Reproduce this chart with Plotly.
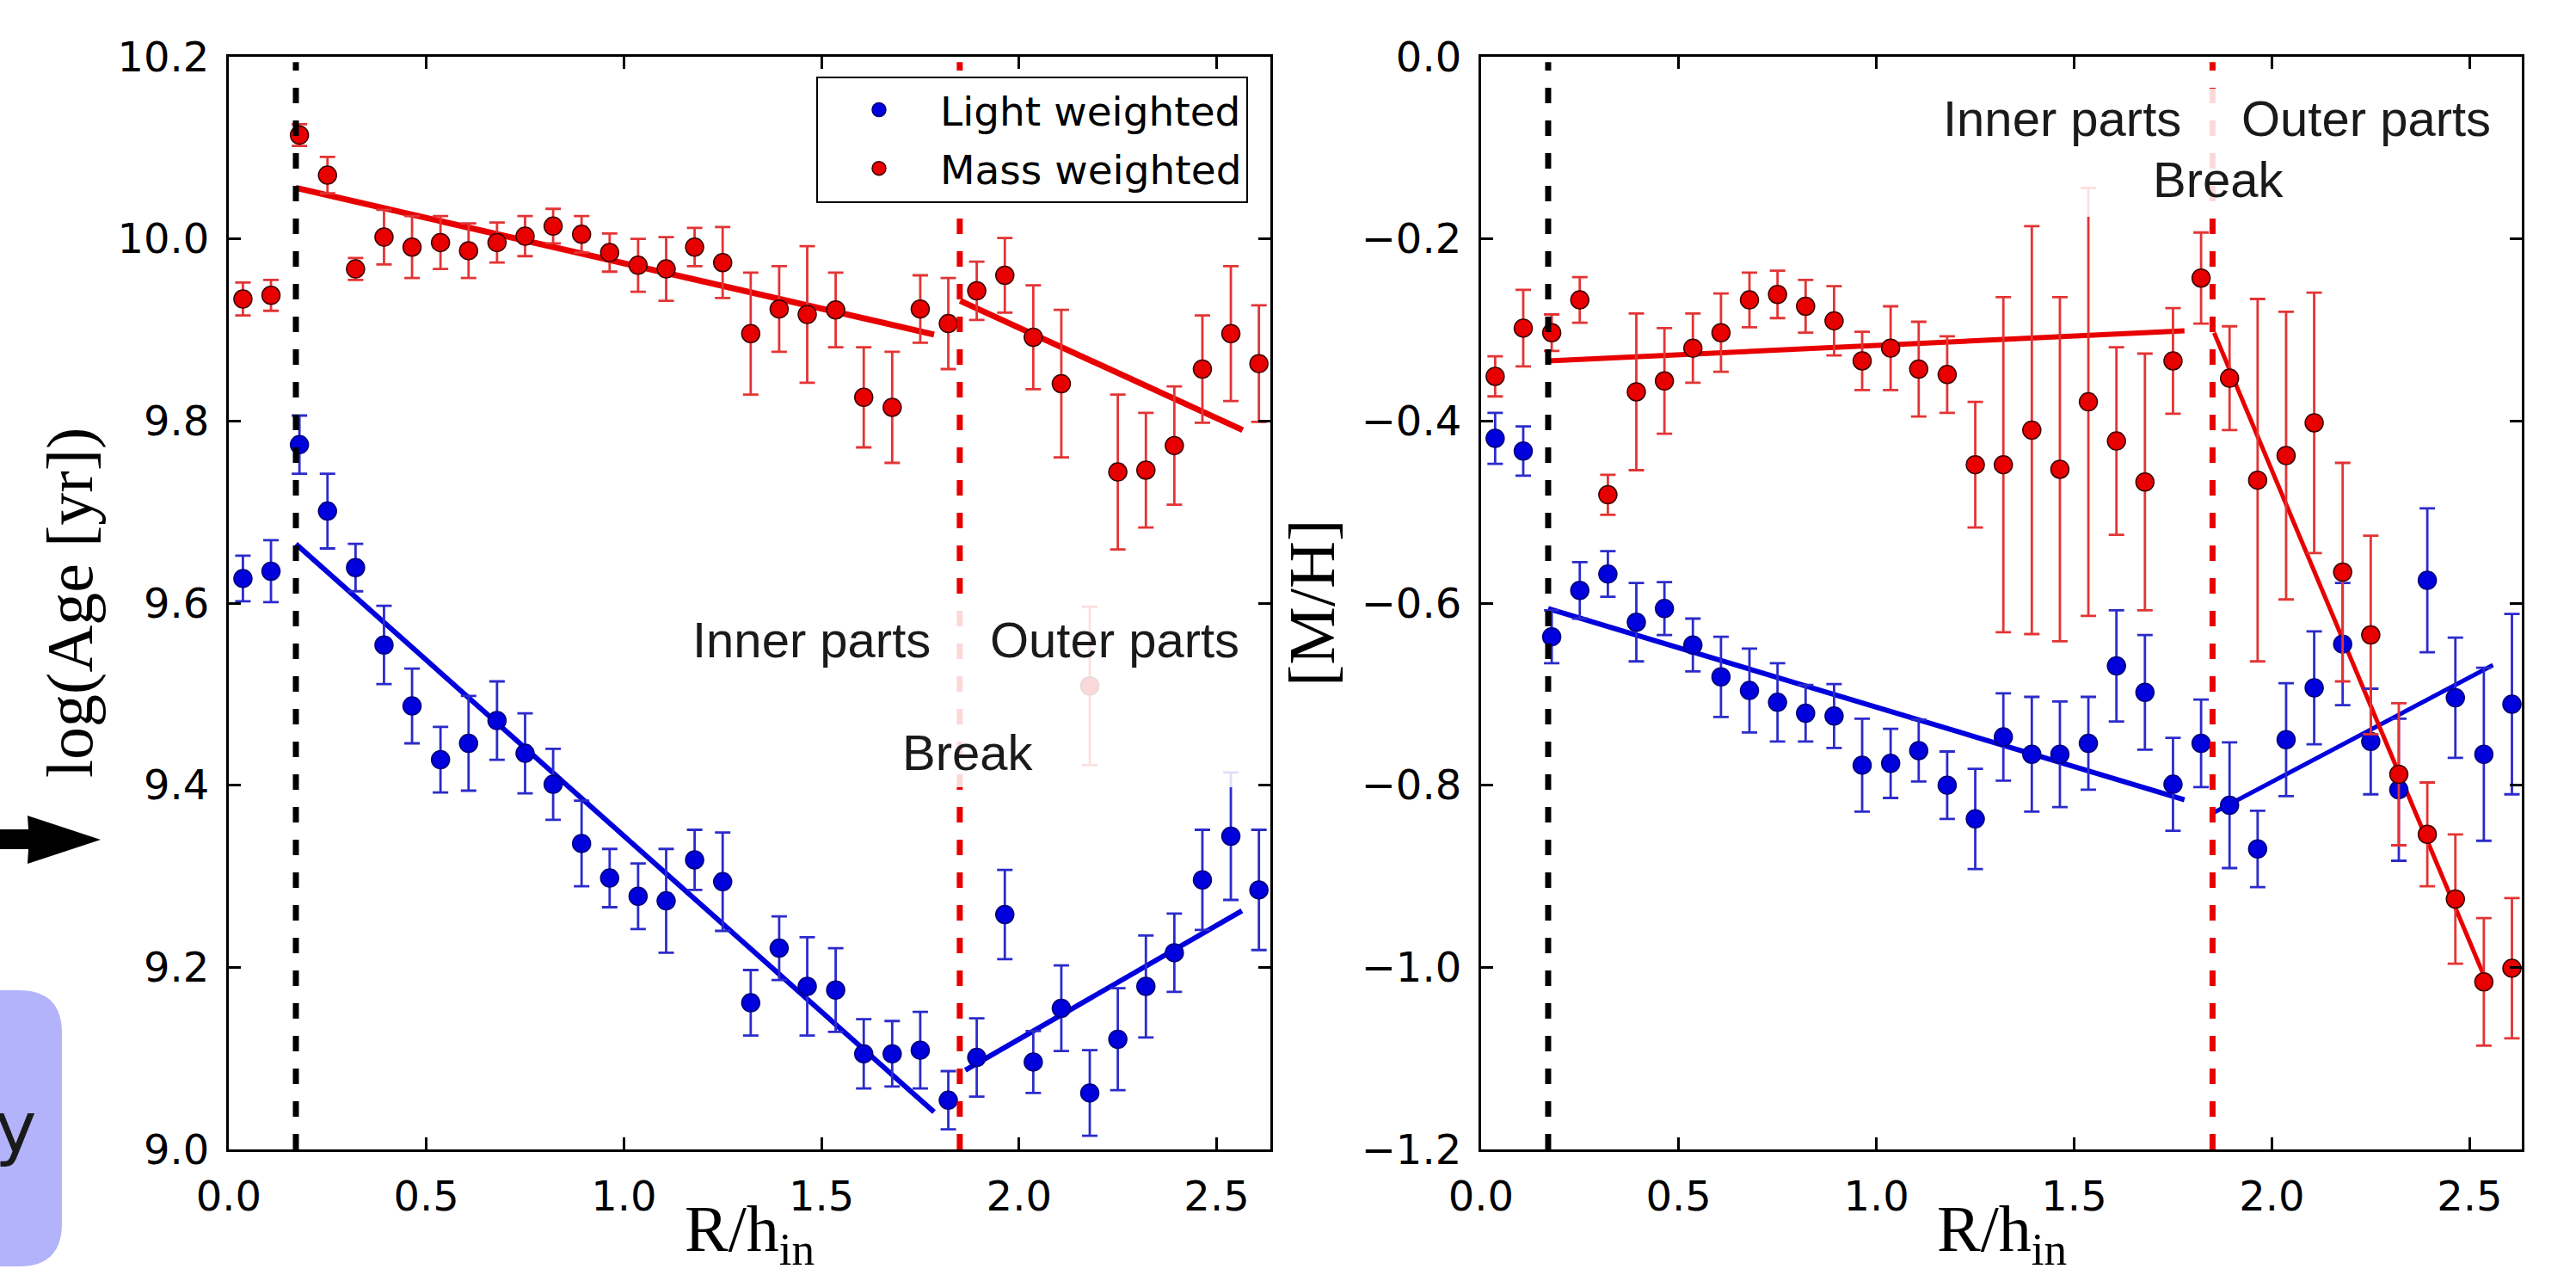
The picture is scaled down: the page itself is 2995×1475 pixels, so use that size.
import plotly.graph_objects as go

W, H = 2995, 1475

# ---------------- data ----------------
R = [0.036, 0.107, 0.179, 0.250, 0.321, 0.393, 0.464, 0.536, 0.607, 0.679,
     0.750, 0.821, 0.893, 0.964, 1.036, 1.107, 1.179, 1.250, 1.321, 1.393,
     1.464, 1.536, 1.607, 1.679, 1.750, 1.821, 1.893, 1.964, 2.036, 2.107,
     2.179, 2.250, 2.321, 2.393, 2.464, 2.536, 2.607]

age_light = [9.627, 9.635, 9.774, 9.701, 9.639, 9.554, 9.487, 9.428, 9.446, 9.471,
             9.435, 9.401, 9.336, 9.298, 9.278, 9.273, 9.318, 9.294, 9.161, 9.221,
             9.179, 9.175, 9.105, 9.105, 9.109, 9.054, 9.101, 9.258, 9.096, 9.155,
             9.062, 9.121, 9.179, 9.216, 9.296, 9.344, 9.285]
age_light_err = [0.025, 0.034, 0.032, 0.041, 0.026, 0.043, 0.041, 0.036, 0.052, 0.043,
                 0.044, 0.039, 0.047, 0.032, 0.036, 0.057, 0.033, 0.054, 0.036, 0.035,
                 0.054, 0.046, 0.038, 0.036, 0.042, 0.032, 0.043, 0.049, 0.034, 0.047,
                 0.047, 0.056, 0.056, 0.043, 0.055, 0.070, 0.066]

age_mass = [9.934, 9.938, 10.114, 10.070, 9.967, 10.002, 9.991, 9.996, 9.987, 9.996,
            10.003, 10.014, 10.005, 9.985, 9.971, 9.967, 9.991, 9.974, 9.896, 9.923,
            9.917, 9.922, 9.826, 9.815, 9.923, 9.907, 9.943, 9.960, 9.892, 9.841,
            9.509, 9.744, 9.746, 9.773, 9.857, 9.896, 9.863]
age_mass_err = [0.018, 0.017, 0.012, 0.020, 0.012, 0.030, 0.034, 0.029, 0.030, 0.022,
                0.022, 0.019, 0.020, 0.021, 0.029, 0.035, 0.021, 0.039, 0.067, 0.047,
                0.075, 0.041, 0.055, 0.061, 0.037, 0.050, 0.032, 0.041, 0.057, 0.081,
                0.087, 0.085, 0.063, 0.065, 0.059, 0.074, 0.064]

mh_light = [-0.419, -0.433, -0.637, -0.586, -0.568, -0.621, -0.606, -0.646, -0.681, -0.696,
            -0.709, -0.721, -0.724, -0.778, -0.776, -0.762, -0.800, -0.837, -0.747, -0.766,
            -0.766, -0.754, -0.669, -0.698, -0.799, -0.754, -0.822, -0.870, -0.750, -0.693,
            -0.645, -0.752, -0.805, -0.575, -0.704, -0.766, -0.711]
mh_light_err = [0.028, 0.027, 0.029, 0.031, 0.025, 0.043, 0.029, 0.029, 0.044, 0.046,
                0.043, 0.031, 0.035, 0.051, 0.038, 0.034, 0.037, 0.055, 0.048, 0.063,
                0.058, 0.051, 0.061, 0.063, 0.051, 0.048, 0.069, 0.042, 0.062, 0.062,
                0.067, 0.058, 0.078, 0.079, 0.066, 0.095, 0.099]

mh_mass = [-0.351, -0.298, -0.303, -0.267, -0.481, -0.368, -0.356, -0.320, -0.303, -0.267,
           -0.261, -0.274, -0.290, -0.334, -0.320, -0.343, -0.349, -0.448, -0.448, -0.410,
           -0.453, -0.379, -0.422, -0.467, -0.334, -0.243, -0.353, -0.465, -0.438, -0.402,
           -0.566, -0.635, -0.788, -0.854, -0.925, -1.016, -1.001]
mh_mass_err = [0.022, 0.042, 0.020, 0.025, 0.022, 0.086, 0.058, 0.038, 0.043, 0.030,
               0.026, 0.029, 0.038, 0.032, 0.046, 0.052, 0.042, 0.069, 0.184, 0.224,
               0.189, 0.235, 0.103, 0.141, 0.058, 0.050, 0.057, 0.199, 0.158, 0.143,
               0.120, 0.109, 0.078, 0.057, 0.071, 0.070, 0.077]

# linear fits (end points)
fit_age_light_in_x, fit_age_light_in_y = [0.17, 1.785], [9.665, 9.041]
fit_age_light_out_x, fit_age_light_out_y = [1.864, 2.564], [9.087, 9.262]
fit_age_mass_in_x, fit_age_mass_in_y = [0.17, 1.785], [10.056, 9.895]
fit_age_mass_out_x, fit_age_mass_out_y = [1.851, 2.566], [9.932, 9.790]
fit_mh_light_in_x, fit_mh_light_in_y = [0.17, 1.779], [-0.606, -0.816]
fit_mh_light_out_x, fit_mh_light_out_y = [1.853, 2.559], [-0.830, -0.668]
fit_mh_mass_in_x, fit_mh_mass_in_y = [0.17, 1.779], [-0.334, -0.301]
fit_mh_mass_out_x, fit_mh_mass_out_y = [1.854, 2.535], [-0.303, -1.008]

R_inner = 0.17
R_break = 1.85

x_ticks = [0.0, 0.5, 1.0, 1.5, 2.0, 2.5]
x_ticklabels = ["0.0", "0.5", "1.0", "1.5", "2.0", "2.5"]
age_ticks = [9.0, 9.2, 9.4, 9.6, 9.8, 10.0, 10.2]
age_ticklabels = ["9.0", "9.2", "9.4", "9.6", "9.8", "10.0", "10.2"]
mh_ticks = [-1.2, -1.0, -0.8, -0.6, -0.4, -0.2, 0.0]
mh_ticklabels = ["\u22121.2", "\u22121.0", "\u22120.8", "\u22120.6", "\u22120.4", "\u22120.2", "0.0"]

# ---------------- style ----------------
RED = "#e80000"
RED_ERR = "#e33434"
BLUE = "#0000dc"
BLUE_ERR = "#2b2bcc"
TXT = "#1a1a1a"


def px(x):
    return x / W


def py(y):
    return 1 - y / H


fig = go.Figure()


def add_fit(x, y, color, width, xa, ya):
    fig.add_trace(go.Scatter(x=x, y=y, mode="lines", line=dict(color=color, width=width),
                             xaxis=xa, yaxis=ya, showlegend=False, hoverinfo="skip"))


def add_pts(y, e, color, ecolor, edge, name, xa, ya, show):
    fig.add_trace(go.Scatter(
        x=R, y=y, mode="markers", name=name, legendgroup=name, showlegend=show,
        marker=dict(color=color, size=21, line=dict(color=edge, width=1.5)),
        error_y=dict(type="data", array=e, visible=True, color=ecolor, thickness=2.8, width=9),
        xaxis=xa, yaxis=ya))


add_fit(fit_age_light_in_x, fit_age_light_in_y, BLUE, 6, "x", "y")
add_fit(fit_age_light_out_x, fit_age_light_out_y, BLUE, 6, "x", "y")
add_fit(fit_age_mass_in_x, fit_age_mass_in_y, RED, 7, "x", "y")
add_fit(fit_age_mass_out_x, fit_age_mass_out_y, RED, 7, "x", "y")
add_fit(fit_mh_light_in_x, fit_mh_light_in_y, BLUE, 6, "x2", "y2")
add_fit(fit_mh_light_out_x, fit_mh_light_out_y, BLUE, 5, "x2", "y2")
add_fit(fit_mh_mass_in_x, fit_mh_mass_in_y, RED, 6, "x2", "y2")
add_fit(fit_mh_mass_out_x, fit_mh_mass_out_y, RED, 5, "x2", "y2")

add_pts(age_light, age_light_err, BLUE, BLUE_ERR, "#00007a", "Light weighted", "x", "y", True)
add_pts(age_mass, age_mass_err, RED, RED_ERR, "#3a0000", "Mass weighted", "x", "y", True)
add_pts(mh_light, mh_light_err, BLUE, BLUE_ERR, "#00007a", "Light weighted", "x2", "y2", False)
add_pts(mh_mass, mh_mass_err, RED, RED_ERR, "#3a0000", "Mass weighted", "x2", "y2", False)

# ---------------- shapes ----------------
shapes = []
for xr, yr in (("x", "y domain"), ("x2", "y2 domain")):
    shapes.append(dict(type="line", xref=xr, yref=yr, x0=R_inner, x1=R_inner, y0=0, y1=0.995,
                       line=dict(color="black", width=7, dash="18px,20px"), layer="above"))
    shapes.append(dict(type="line", xref=xr, yref=yr, x0=R_break, x1=R_break, y0=0, y1=0.995,
                       line=dict(color="#e60000", width=7, dash="18px,20px"), layer="above"))

# translucent label backgrounds (as in the original figure)
for (x0, y0, x1, y1) in ((800, 692, 1458, 915), (2250, 103, 2905, 252)):
    shapes.append(dict(type="rect", xref="paper", yref="paper",
                       x0=px(x0), x1=px(x1), y0=py(y1), y1=py(y0),
                       fillcolor="white", opacity=0.85, line=dict(width=0), layer="above"))


def P(a, b):
    return f"{px(a):.5f},{py(b):.5f}"


# slide fragments at the left edge: arrow and lavender box
arrow = [(-10, 964), (33, 964), (32, 948), (117, 976), (32, 1004), (33, 987), (-10, 987)]
path = "M " + " L ".join(P(a, b) for a, b in arrow) + " Z"
shapes.append(dict(type="path", xref="paper", yref="paper", path=path,
                   fillcolor="black", line=dict(width=0), layer="above"))

box = (f"M {P(-60, 1151)} L {P(22, 1151)} Q {P(72, 1151)} {P(72, 1201)} "
       f"L {P(72, 1422)} Q {P(72, 1472)} {P(22, 1472)} L {P(-60, 1472)} Z")
shapes.append(dict(type="path", xref="paper", yref="paper", path=box,
                   fillcolor="#b3b3fb", line=dict(width=0), layer="above"))

# ---------------- annotations ----------------
ann = []


def text(t, xc, yc, size, family="Liberation Sans", color=TXT, angle=0):
    ann.append(dict(text=t, xref="paper", yref="paper", x=px(xc), y=py(yc),
                    xanchor="center", yanchor="middle", showarrow=False, textangle=angle,
                    font=dict(family=family, size=size, color=color)))


text("Inner parts", 943.6, 743.5, 58)
text("Outer parts", 1296, 743.5, 58)
text("Break", 1125, 874.3, 58)
text("Inner parts", 2397, 137.5, 58)
text("Outer parts", 2750.5, 137.5, 58)
text("Break", 2579, 208.3, 58)

text("R/h<sub>in</sub>", 871.5, 1434, 76, family="Liberation Serif", color="black")
text("R/h<sub>in</sub>", 2327, 1434, 76, family="Liberation Serif", color="black")
text("log(Age [yr])", 81, 701, 76, family="Liberation Serif", color="black", angle=-90)
text("[M/H]", 1525, 701, 76, family="Liberation Serif", color="black", angle=-90)
text("y", 18, 1310, 82, family="DejaVu Sans", color="#1a1a1a")

# ---------------- axes ----------------
axis_common = dict(showline=True, linewidth=3, linecolor="black", mirror="ticks",
                   ticks="inside", ticklen=14, tickwidth=2.5, tickcolor="black",
                   showgrid=False, zeroline=False, automargin=False,
                   tickfont=dict(family="DejaVu Sans", size=48, color="black"))

ydom = [py(1336), py(66)]
fig.update_layout(
    width=W, height=H,
    margin=dict(l=0, r=0, t=0, b=0, pad=0),
    paper_bgcolor="white", plot_bgcolor="white",
    xaxis=dict(domain=[px(265.9), px(1477)], range=[0, 2.636], tickvals=x_ticks,
               ticktext=x_ticklabels, anchor="y", ticklabelstandoff=10, **axis_common),
    yaxis=dict(domain=ydom, range=[9.0, 10.2], tickvals=age_ticks, ticktext=age_ticklabels,
               anchor="x", ticklabelstandoff=10, **axis_common),
    xaxis2=dict(domain=[px(1721.8), px(2932)], range=[0, 2.632], tickvals=x_ticks,
                ticktext=x_ticklabels, anchor="y2", ticklabelstandoff=10, **axis_common),
    yaxis2=dict(domain=ydom, range=[-1.2, 0.0], tickvals=mh_ticks, ticktext=mh_ticklabels,
                anchor="x2", ticklabelstandoff=10, **axis_common),
    shapes=shapes,
    annotations=ann,
    showlegend=True,
    legend=dict(x=px(949), y=py(88.5), xanchor="left", yanchor="top",
                bgcolor="white", bordercolor="black", borderwidth=2,
                font=dict(family="DejaVu Sans", size=47, color="black"),
                itemwidth=132, tracegroupgap=4),
)

fig.write_html("out.html", config={"displayModeBar": False},
               post_script="document.body.style.margin='0';")
